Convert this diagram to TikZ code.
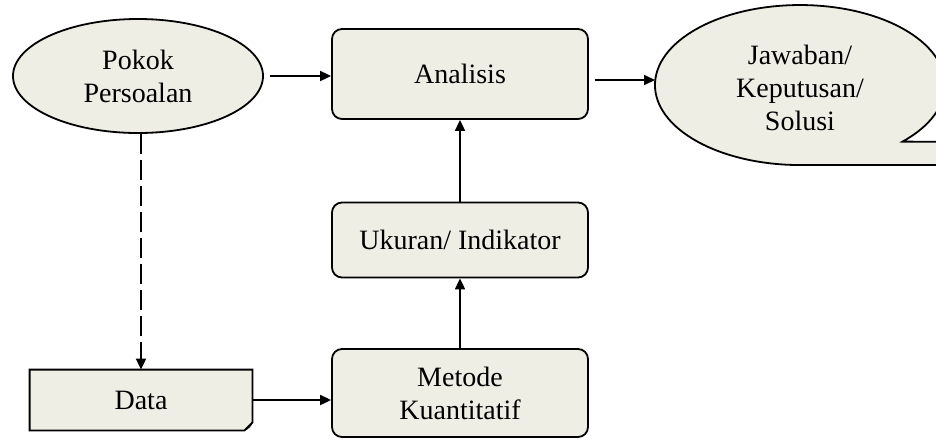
\documentclass[tikz,border=0pt]{standalone}
\usepackage{fontspec}
\setmainfont{Liberation Serif}
\usetikzlibrary{arrows.meta,positioning,shapes.geometric}

\definecolor{boxfill}{RGB}{238,238,229}

\begin{document}
\begin{tikzpicture}[
        x=0.5pt, y=-0.5pt,
        every node/.style={
            font=\fontsize{14}{16.5}\selectfont
        },
        roundbox/.style={
            draw,
            fill=boxfill,
            rounded corners=5pt,
            align=center,
            minimum width=128pt,
            line width=0.9pt
        },
        oval/.style={
            ellipse,
            draw,
            fill=boxfill,
            align=center,
            minimum width=125pt,
            minimum height=57pt,
            line width=0.9pt
        },
        flow/.style={
            line width=0.9pt,
            -{Triangle[length=5.5pt,width=5pt]}
        }
    ]

        \useasboundingbox (0,0) rectangle (936,440);

        % left column
        \node[oval] (pokok) at (138,76)
            {Pokok\\Persoalan};

        \node[inner sep=0, minimum width=111pt, minimum height=30pt] (data) at (141,400) {};
        \filldraw[fill=boxfill, line width=0.9pt]
            (data.north west) -- (data.north east)
            -- ([yshift=4pt]data.south east) -- ([xshift=-4pt]data.south east)
            -- (data.south west) -- cycle;
        \draw[line width=0.5pt] ([yshift=4pt]data.south east)
            to[bend left=20] ([xshift=-4pt]data.south east);
        \node (datalabel) at (data.center) {Data};

        % middle column
        \node[roundbox, minimum height=45pt] (analisis) at (460,74)
            {Analisis};

        \node[roundbox, minimum height=37.5pt] (ukuran) at (460,240)
            {Ukuran/ Indikator};

        \node[roundbox, minimum height=44pt] (metode) at (460,393)
            {Metode\\Kuantitatif};

        % callout on the right
        \begin{scope}
            \clip (0,0) rectangle (936,440);
            \filldraw[fill=boxfill, line width=0.9pt]
                (1000,142) -- (902.5,141.6)
                arc[start angle=45, end angle=-270, x radius=145, y radius=80]
                -- (1000,165);
        \end{scope}
        \node[align=center] (jawaban) at (800,88)
            {Jawaban/\\Keputusan/\\Solusi};
        \coordinate (jawabanW) at (655,80);

        % connectors
        \draw[flow, shorten <=3pt] (pokok.east) -- (pokok.east -| analisis.west);
        \draw[flow, shorten <=3pt] (analisis.east |- jawabanW) -- (jawabanW);
        \draw[flow] (metode) -- (ukuran);
        \draw[flow] (ukuran) -- (analisis);
        \draw[flow] (data.east) -- (data.east -| metode.west);
        \draw[flow, dashed, dash pattern=on 10pt off 3pt]
            (pokok.south -| data.north) -- (data.north);

    \end{tikzpicture}
\end{document}
